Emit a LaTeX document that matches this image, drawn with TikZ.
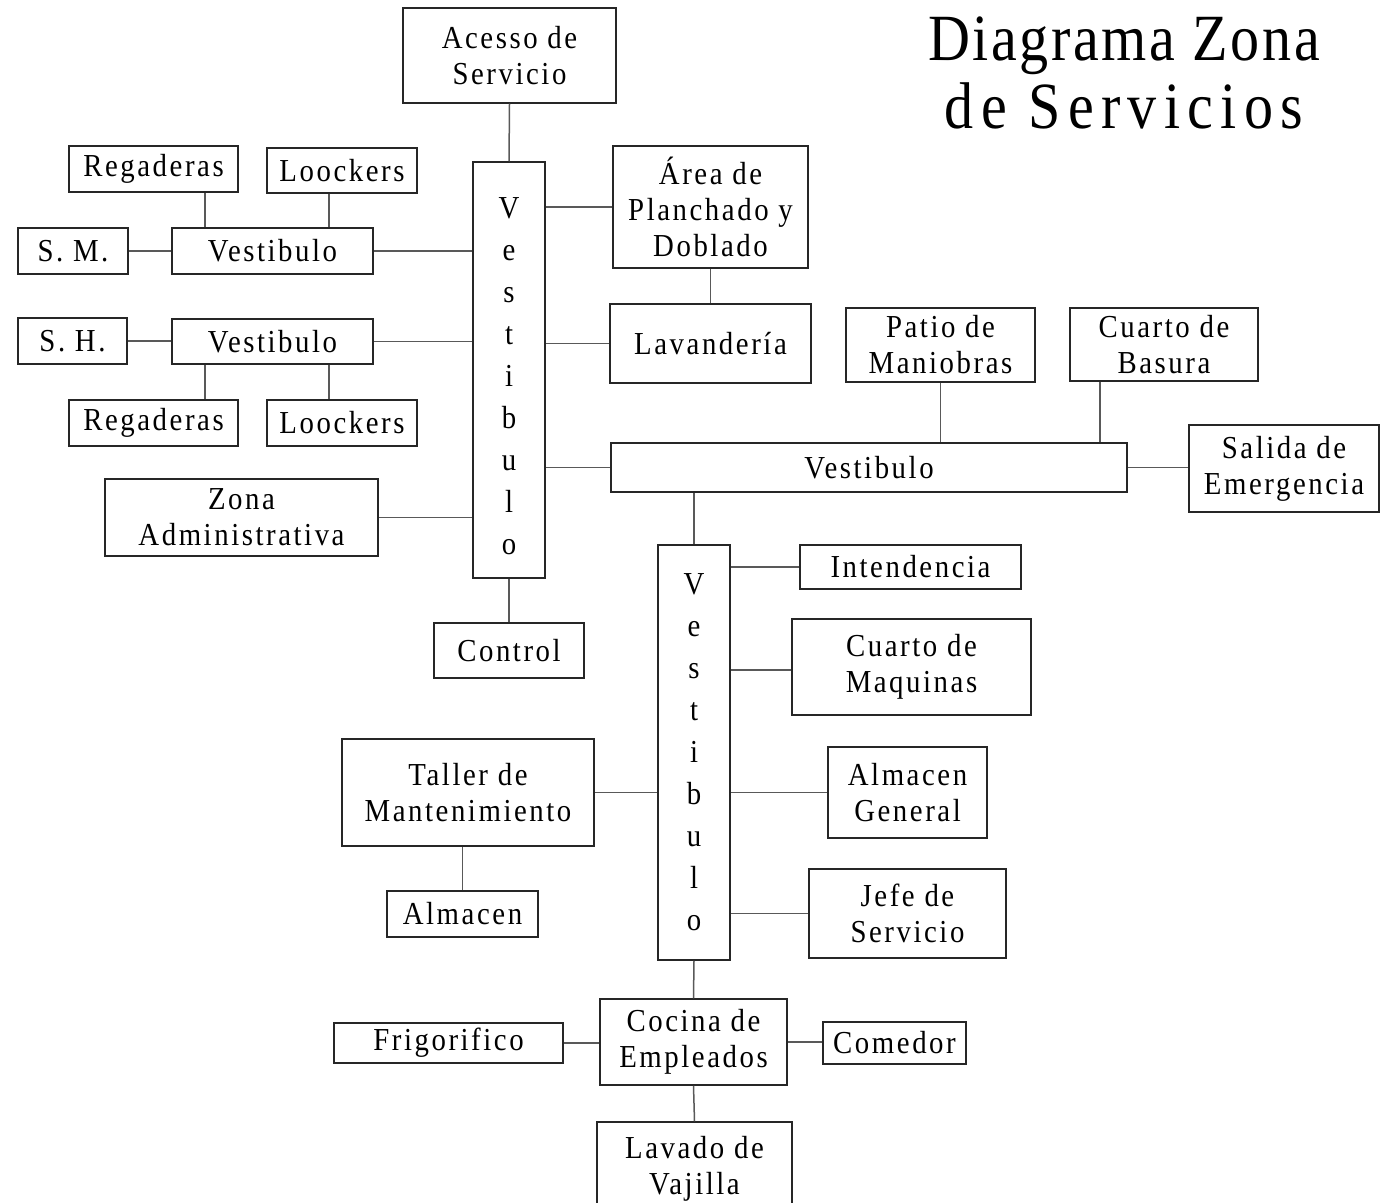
\documentclass[tikz,border=0pt]{standalone}
\usepackage{fontspec}
\setmainfont{Liberation Serif}[LetterSpace=8,FakeStretch=0.9]
\newfontfamily\titlefont{Liberation Serif}[LetterSpace=4,FakeStretch=0.88]

% box given by its left, top, right and bottom edges (1 unit = 0.5pt)
\newcommand\zbox[7][]{%
  \node[zbox,#1,
        minimum width={(#5-#3)*0.5pt},
        minimum height={(#6-#4)*0.5pt}]
    (#2) at ({(#3+#5)/2},{(#4+#6)/2}) {#7};}

\begin{document}
\begin{tikzpicture}[x=0.5pt,y=-0.5pt,
  zbox/.style={draw=black!85,line width=0.75pt,inner sep=0pt,align=center,
               font=\fontsize{16}{18}\selectfont},
  vstack/.style={font=\fontsize{16}{21}\selectfont},
  link/.style={draw=black!65,line width=0.75pt}]

\clip (0,0) rectangle (1381,1203);
\useasboundingbox (0,0) rectangle (1381,1203);

% title
\node[align=center,font=\titlefont\fontsize{33}{34}\selectfont] (title)
  at (1124,73) {Diagrama Zona\\{\addfontfeature{LetterSpace=11}de Servicios}};

% main service hall
\zbox{acc}{403}{8}{616}{103}{Acesso de\\Servicio}
\zbox[vstack]{v1}{473}{162}{545}{578}{V\rule{0pt}{16.6pt}\\e\\s\\t\\i\\b\\u\\l\\o}
\zbox{ctl}{434}{623}{584}{678}{Control}

% locker rooms
\zbox{regA}{69}{146}{238}{192}{Regaderas}
\zbox{lckA}{267}{148}{417}{193}{Loockers}
\zbox{sm}{18}{228}{128}{274}{S. M.}
\zbox{vA}{172}{228}{373}{274}{Vestibulo}
\zbox{sh}{18}{318}{127}{364}{S. H.}
\zbox{vB}{172}{319}{373}{364}{Vestibulo}
\zbox{regB}{69}{400}{238}{446}{Regaderas}
\zbox{lckB}{267}{400}{417}{446}{Loockers}
\zbox{za}{105}{479}{378}{556}{Zona\\Administrativa}

% laundry
\zbox{area}{613}{146}{808}{268}{Área de\\Planchado y\\Doblado}
\zbox{lav}{610}{304}{811}{383}{Lavandería}

% yard hall
\zbox{pat}{846}{308}{1035}{382}{Patio de\\Maniobras}
\zbox{bas}{1070}{308}{1258}{381}{Cuarto de\\Basura}
\zbox{vh}{611}{443}{1127}{492}{Vestibulo}
\zbox{sal}{1189}{425}{1379}{512}{Salida de\\Emergencia}

% maintenance hall
\zbox[vstack]{v2}{658}{545}{730}{960}{V\\e\\s\\t\\i\\b\\u\\l\\o}
\zbox{int}{800}{545}{1021}{589}{Intendencia}
\zbox{cm}{792}{619}{1031}{715}{Cuarto de\\Maquinas}
\zbox{ag}{828}{747}{987}{838}{Almacen\\General}
\zbox{jefe}{809}{869}{1006}{958}{Jefe de\\Servicio}
\zbox{tal}{342}{739}{594}{846}{Taller de\\Mantenimiento}
\zbox{alm}{387}{891}{538}{937}{Almacen}

% staff kitchen
\zbox{coc}{600}{999}{787}{1085}{Cocina de\\Empleados}
\zbox{fri}{334}{1023}{563}{1063}{Frigorifico}
\zbox{com}{823}{1022}{966}{1064}{Comedor}
\zbox{vaj}{597}{1122}{792}{1215}{Lavado de\\Vajilla}

% connectors
\draw[link] (acc.south) -- (v1.north);
\draw[link] (v1.south) -- (ctl.north);
\draw[link] (regA.south -| 205,0) -- (vA.north -| 205,0);
\draw[link] (lckA.south -| 329,0) -- (vA.north -| 329,0);
\draw[link] (sm.east) -- (vA.west);
\draw[link] (vA.east) -- (vA.east -| v1.west);
\draw[link] (sh.east) -- (sh.east -| vB.west);
\draw[link] (vB.east) -- (vB.east -| v1.west);
\draw[link] (vB.south -| 205,0) -- (regB.north -| 205,0);
\draw[link] (vB.south -| 329,0) -- (lckB.north -| 329,0);
\draw[link] (za.east) -- (za.east -| v1.west);

\draw[link] (area.west -| v1.east) -- (area.west);
\draw[link] (area.south) -- (lav.north);
\draw[link] (lav.west -| v1.east) -- (lav.west);
\draw[link] (vh.west -| v1.east) -- (vh.west);

\draw[link] (pat.south) -- (pat.south |- vh.north);
\draw[link] (bas.south -| 1100,0) -- (vh.north -| 1100,0);
\draw[link] (vh.east) -- (vh.east -| sal.west);
\draw[link] (vh.south -| v2.north) -- (v2.north);

\draw[link] (int.west -| v2.east) -- (int.west);
\draw[link] (v2.east |- 0,670) -- (cm.west |- 0,670);
\draw[link] (ag.west -| v2.east) -- (ag.west);
\draw[link] (jefe.west -| v2.east) -- (jefe.west);
\draw[link] (tal.east) -- (tal.east -| v2.west);
\draw[link] (alm.north |- tal.south) -- (alm.north);

\draw[link] (v2.south) -- (coc.north);
\draw[link] (fri.east) -- (fri.east -| coc.west);
\draw[link] (coc.east) -- (coc.east -| com.west);
\draw[link] (coc.south) -- (vaj.north);
\end{tikzpicture}
\end{document}
